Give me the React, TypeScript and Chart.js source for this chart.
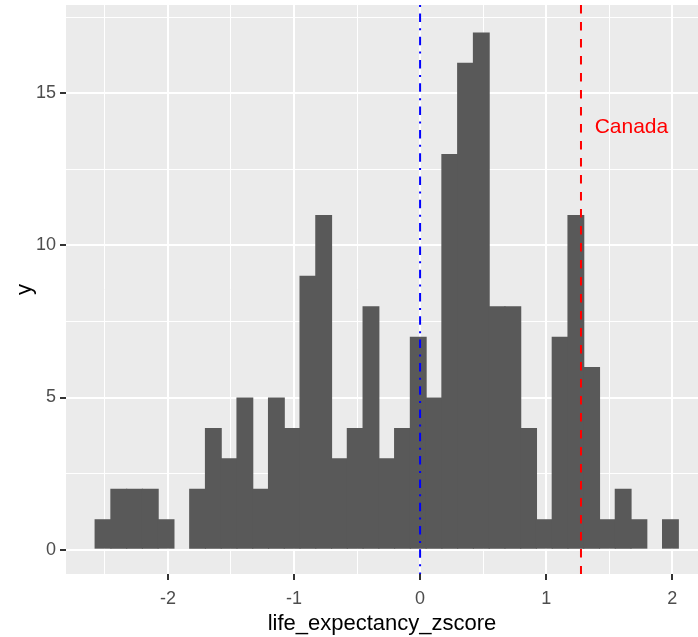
import React, { useEffect, useRef } from 'react';
import { Chart, registerables } from 'chart.js';

Chart.register(...registerables);

// ---- data ----
const binStart = -2.577;
const binWidth = 0.125;
const counts = [1, 2, 2, 2, 1, 0, 2, 4, 3, 5, 2, 5, 4, 9, 11, 3, 4, 8, 3, 4, 7, 5, 13, 16, 17, 8, 8, 4, 1, 7, 11, 6, 1, 2, 1, 0, 1];
const xMajorTicks = [-2, -1, 0, 1, 2];
const xMinorTicks = [-2.5, -1.5, -0.5, 0.5, 1.5];
const yMajorTicks = [0, 5, 10, 15];
const yMinorTicks = [2.5, 7.5, 12.5, 17.5];
const meanZ = 0;
const canadaZ = 1.276;
const canadaLabel = 'Canada';
const canadaLabelX = 1.676;
const canadaLabelY = 13.9;
const xTitle = 'life_expectancy_zscore';
const yTitle = 'y';
const xRange = [-2.808, 2.204];
const yRange = [-0.8, 17.9];

const FONT = '"Liberation Sans", Arial, sans-serif';

const panelPlugin = {
  id: 'panelBg',
  beforeDraw(chart: any) {
    const { ctx, chartArea: a } = chart;
    ctx.save();
    ctx.fillStyle = '#EBEBEB';
    ctx.fillRect(a.left, a.top, a.right - a.left, a.bottom - a.top);
    ctx.restore();
  },
};

const annotationPlugin = {
  id: 'vlines',
  afterDatasetsDraw(chart: any) {
    const { ctx, chartArea: a, scales } = chart;
    const xs = scales.x;
    const ys = scales.y;
    ctx.save();
    ctx.beginPath();
    ctx.rect(a.left, a.top, a.right - a.left, a.bottom - a.top);
    ctx.clip();
    const vline = (v: number, color: string, dash: number[]) => {
      const px = xs.getPixelForValue(v);
      ctx.beginPath();
      ctx.setLineDash(dash);
      ctx.strokeStyle = color;
      ctx.lineWidth = 2;
      ctx.moveTo(px, a.top);
      ctx.lineTo(px, a.bottom);
      ctx.stroke();
    };
    vline(meanZ, '#0000FF', [2, 6.4, 8.5, 6.4]);
    vline(canadaZ, '#FF0000', [8.5, 8.5]);
    ctx.setLineDash([]);
    ctx.fillStyle = '#FF0000';
    ctx.font = `21px ${FONT}`;
    ctx.textAlign = 'center';
    ctx.textBaseline = 'middle';
    ctx.fillText(canadaLabel, xs.getPixelForValue(canadaLabelX), ys.getPixelForValue(canadaLabelY));
    ctx.restore();
  },
};

export default function App() {
  const ref = useRef<HTMLCanvasElement | null>(null);

  useEffect(() => {
    if (!ref.current) return;
    const points = counts.map((c, i) => ({ x: binStart + (i + 0.5) * binWidth, y: c }));
    const xAll = [...xMinorTicks, ...xMajorTicks].sort((a, b) => a - b);
    const yAll = [...yMinorTicks, ...yMajorTicks].sort((a, b) => a - b);
    const chart = new Chart(ref.current, {
      type: 'bar',
      data: {
        datasets: [
          {
            data: points as any,
            backgroundColor: '#595959',
            borderWidth: 0,
            barPercentage: 1.07,
            categoryPercentage: 1,
          },
        ],
      },
      options: {
        responsive: false,
        animation: false,
        events: [],
        layout: { padding: { top: 5, left: 0, right: 0, bottom: 0 } },
        plugins: { legend: { display: false }, tooltip: { enabled: false } },
        scales: {
          x: {
            type: 'linear',
            min: xRange[0],
            max: xRange[1],
            offset: false,
            afterBuildTicks: (s: any) => {
              s.ticks = xAll.map((v) => ({ value: v }));
            },
            afterFit: (s: any) => {
              s.height = 63;
              s.paddingLeft = 0;
              s.paddingRight = 0;
            },
            ticks: {
              autoSkip: false,
              maxRotation: 0,
              padding: 8,
              color: '#4D4D4D',
              font: { family: FONT, size: 18 },
              callback: (v: any) => (xMajorTicks.includes(Number(v)) ? String(v) : ''),
            },
            grid: {
              offset: false,
              color: '#FFFFFF',
              lineWidth: (c: any) => (xMajorTicks.includes(c.tick?.value) ? 2 : 1),
              tickLength: 6,
              tickWidth: 2,
              tickColor: (c: any) => (xMajorTicks.includes(c.tick?.value) ? '#333333' : 'rgba(0,0,0,0)'),
            },
            border: { display: false },
            title: {
              display: true,
              text: xTitle,
              color: '#000000',
              font: { family: FONT, size: 22 },
              padding: { top: 0, bottom: 0 },
            },
          },
          y: {
            type: 'linear',
            min: yRange[0],
            max: yRange[1],
            afterBuildTicks: (s: any) => {
              s.ticks = yAll.map((v) => ({ value: v }));
            },
            afterFit: (s: any) => {
              s.width = 66;
              s.paddingTop = 0;
              s.paddingBottom = 0;
            },
            ticks: {
              autoSkip: false,
              padding: 4,
              color: '#4D4D4D',
              font: { family: FONT, size: 18 },
              callback: (v: any) => (yMajorTicks.includes(Number(v)) ? String(v) : ''),
            },
            grid: {
              offset: false,
              color: '#FFFFFF',
              lineWidth: (c: any) => (yMajorTicks.includes(c.tick?.value) ? 2 : 1),
              tickLength: 6,
              tickWidth: 2,
              tickColor: (c: any) => (yMajorTicks.includes(c.tick?.value) ? '#333333' : 'rgba(0,0,0,0)'),
            },
            border: { display: false },
            title: {
              display: true,
              text: yTitle,
              color: '#000000',
              font: { family: FONT, size: 22 },
              padding: { top: 12, bottom: 0 },
            },
          },
        },
      },
      plugins: [panelPlugin, annotationPlugin],
    } as any);
    return () => chart.destroy();
  }, []);

  return (
    <div style={{ position: 'absolute', left: 0, top: 0, width: 698, height: 637 }}>
      <canvas ref={ref} width={698} height={637} style={{ display: 'block' }} />
    </div>
  );
}
